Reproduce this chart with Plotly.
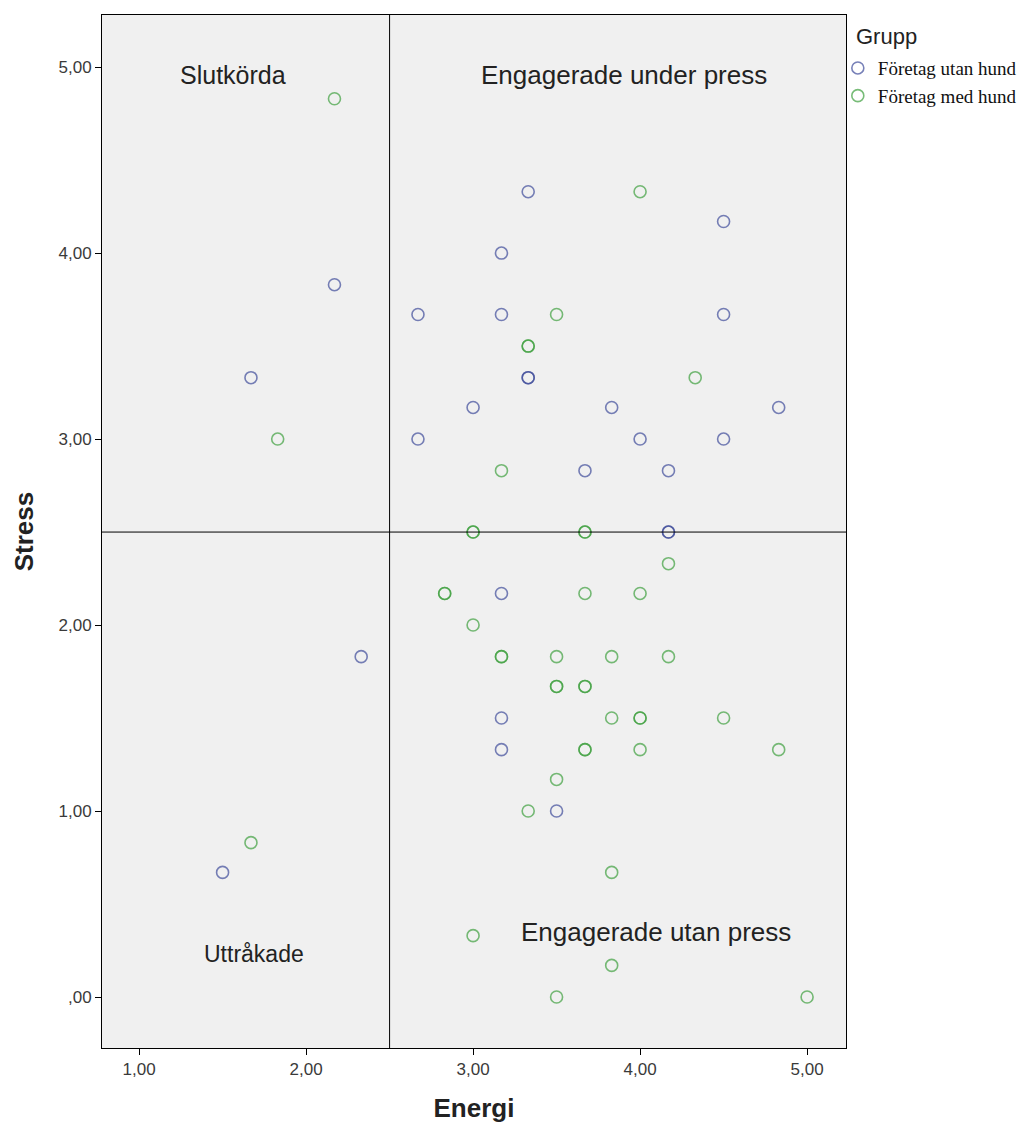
import plotly.graph_objects as go

# Företag utan hund (blue)
blue_x = [3.33, 4.50, 3.17, 2.17, 2.67, 3.17, 4.50, 1.67, 3.33, 3.33, 3.00, 3.83, 4.83, 2.67, 4.00, 4.50,
          3.67, 4.17, 4.17, 4.17, 3.17, 2.33, 3.17, 3.17, 3.50, 1.50]
blue_y = [4.33, 4.17, 4.00, 3.83, 3.67, 3.67, 3.67, 3.33, 3.33, 3.33, 3.17, 3.17, 3.17, 3.00, 3.00, 3.00,
          2.83, 2.83, 2.50, 2.50, 2.17, 1.83, 1.50, 1.33, 1.00, 0.67]

# Företag med hund (green)
green_x = [2.17, 4.00, 3.50, 3.33, 3.33, 4.33, 1.83, 3.17, 3.00, 3.00, 3.67, 3.67, 4.17, 2.83, 2.83, 3.67, 4.00,
           3.00, 3.17, 3.17, 3.50, 3.83, 4.17, 3.50, 3.50, 3.67, 3.67, 3.83, 4.00, 4.00, 4.50, 3.67, 3.67,
           4.00, 4.83, 3.50, 3.33, 1.67, 3.83, 3.00, 3.83, 3.50, 5.00]
green_y = [4.83, 4.33, 3.67, 3.50, 3.50, 3.33, 3.00, 2.83, 2.50, 2.50, 2.50, 2.50, 2.33, 2.17, 2.17, 2.17, 2.17,
           2.00, 1.83, 1.83, 1.83, 1.83, 1.83, 1.67, 1.67, 1.67, 1.67, 1.50, 1.50, 1.50, 1.50, 1.33, 1.33,
           1.33, 1.33, 1.17, 1.00, 0.83, 0.67, 0.33, 0.17, 0.00, 0.00]

x_tick_vals = [1, 2, 3, 4, 5]
x_tick_text = ["1,00", "2,00", "3,00", "4,00", "5,00"]
y_tick_vals = [0, 1, 2, 3, 4, 5]
y_tick_text = [",00", "1,00", "2,00", "3,00", "4,00", "5,00"]

quadrant_labels = ["Slutkörda", "Engagerade under press", "Uttråkade", "Engagerade utan press"]
quadrant_x = [1.563, 3.904, 1.689, 4.096]
quadrant_y = [4.96, 4.96, 0.231, 0.349]
quadrant_size = [25, 26, 23, 26]

blue = "#3f4c9a"
green = "#3f9f3f"

fig = go.Figure()
fig.add_trace(go.Scatter(x=blue_x, y=blue_y, mode="markers", name="Företag utan hund",
                         marker=dict(symbol="circle-open", size=12, color=blue, opacity=0.7,
                                     line=dict(width=1.6))))
fig.add_trace(go.Scatter(x=green_x, y=green_y, mode="markers", name="Företag med hund",
                         marker=dict(symbol="circle-open", size=12, color=green, opacity=0.7,
                                     line=dict(width=1.6))))

for t, x, y, s in zip(quadrant_labels, quadrant_x, quadrant_y, quadrant_size):
    fig.add_annotation(x=x, y=y, text=t, showarrow=False, xref="x", yref="y",
                       font=dict(family="Arial, Liberation Sans", size=s, color="#222222"))

fig.add_annotation(x=1.0106, y=0.979, xref="paper", yref="paper", xanchor="left", yanchor="middle",
                   text="Grupp", showarrow=False,
                   font=dict(family="Arial, Liberation Sans", size=22, color="#222222"))

fig.add_shape(type="line", xref="x", yref="paper", x0=2.5, x1=2.5, y0=0, y1=1,
              line=dict(color="black", width=1))
fig.add_shape(type="line", xref="paper", yref="y", x0=0, x1=1, y0=2.5, y1=2.5,
              line=dict(color="black", width=1))

fig.update_layout(
    width=1033, height=1127,
    margin=dict(l=94, r=195, t=7, b=87),
    paper_bgcolor="white",
    plot_bgcolor="#f0f0f0",
    font=dict(family="Arial, Liberation Sans", color="#333333"),
    showlegend=True,
    legend=dict(x=0.989, y=0.967, xanchor="left", yanchor="top",
                font=dict(family="Liberation Serif, Times New Roman", size=19, color="#111111"),
                itemwidth=30, tracegroupgap=0, bgcolor="rgba(0,0,0,0)"),
    xaxis=dict(range=[0.778, 5.233], tickvals=x_tick_vals, ticktext=x_tick_text,
               showgrid=False, zeroline=False, showline=True, mirror=True, linecolor="black", linewidth=1,
               ticks="outside", ticklen=6, tickcolor="black", tickfont=dict(size=17, color="#3a3a3a"),
               title=dict(text="<b>Energi</b>", font=dict(size=26, color="#222222"), standoff=20)),
    yaxis=dict(range=[-0.274, 5.28], tickvals=y_tick_vals, ticktext=y_tick_text,
               showgrid=False, zeroline=False, showline=True, mirror=True, linecolor="black", linewidth=1,
               ticks="outside", ticklen=6, tickcolor="black", tickfont=dict(size=17, color="#3a3a3a"),
               title=dict(text="<b>Stress</b>", font=dict(size=26, color="#222222"), standoff=17)),
)

fig.write_html("out.html")
